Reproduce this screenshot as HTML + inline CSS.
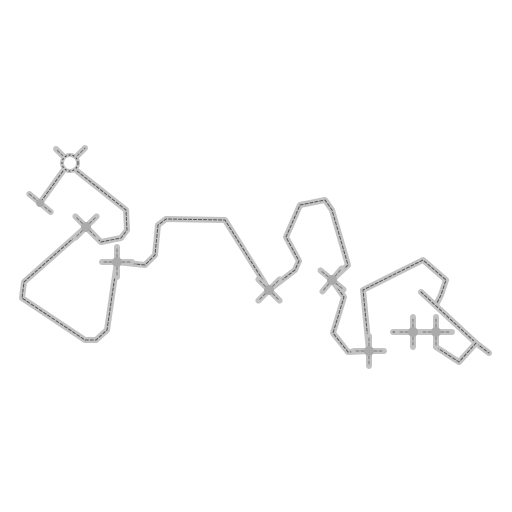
<!DOCTYPE html>
<html><head><meta charset="utf-8"><style>
html,body{margin:0;padding:0;background:#fff;width:512px;height:512px;overflow:hidden}
</style></head><body>
<svg id="map" width="512" height="512" viewBox="0 0 512 512" xmlns="http://www.w3.org/2000/svg">
<g id="roads" fill="none" stroke-linecap="round" stroke-linejoin="round"></g>
<g id="nodes"></g>
</svg>
<script>
const roadNames = ['circle-to-t','circle-to-cross1','left-loop','cross2-to-cross3','cross3-to-cross4','cross4-to-cross5','cross5-to-right','right-diagonal','right-lower','small-cross-bar'];
const roadPoints = [
 [[63,171],[40,203]],
 [[77,171],[126,210],[127,230],[121,238],[101,242],[86,227]],
 [[86,227],[24,282],[22,298],[85,340],[96,340],[107,330],[117,262]],
 [[117,262],[145,265],[155,255],[158,225],[166,219],[225,220],[269,290]],
 [[269,290],[295,270],[299,261],[286,237],[300,205],[325,200],[332,210],[348,265],[332,280]],
 [[332,280],[344,297],[333,333],[348,352],[369,351]],
 [[369,351],[363,290],[423,260],[446,280],[441,295],[436,305]],
 [[421,292],[476,343],[489,353]],
 [[436,332],[436,347],[459,362],[476,343]],
 [[393,332],[452,332]]
];
const crossNodes = [[86,227,45],[117,262,0],[269,290,45],[332,280,40],[369,351,0],[413,332,0],[436,332,0]];
const tNode = [40,203,40];
const circleNode = [70,163,7];
const NS='http://www.w3.org/2000/svg';
const roads=document.getElementById('roads'), nodes=document.getElementById('nodes');
function line(d,w,c,dash,name){const p=document.createElementNS(NS,'path');p.setAttribute('d',d);p.setAttribute('stroke',c);p.setAttribute('stroke-width',w);if(dash)p.setAttribute('stroke-dasharray',dash);


roads.appendChild(p);}
function toD(pts){return pts.map((p,i)=>(i?'L':'M')+p[0]+' '+p[1]).join(' ');}
roadPoints.forEach((pts,i)=>{const d=toD(pts);line(d,6,'#c2c2c2',null,roadNames[i]);line(d,1,'#555','3 2',roadNames[i]+'-centerline');});
function arms(x,y,ang,len){const r=ang*Math.PI/180,res=[];for(let k=0;k<4;k++){const a=r+k*Math.PI/2;res.push('M'+x+' '+y+' L'+(x+len*Math.cos(a)).toFixed(1)+' '+(y+len*Math.sin(a)).toFixed(1));}return res.join(' ');}
crossNodes.forEach((c,i)=>{const d=arms(c[0],c[1],c[2],15);line(d,6,'#c2c2c2',null,'intersection-arms-'+i);line(d,1,'#777','3 2','intersection-centerline-'+i);
const ci=document.createElementNS(NS,'circle');ci.setAttribute('cx',c[0]);ci.setAttribute('cy',c[1]);ci.setAttribute('r',5);ci.setAttribute('fill','#aaa');


nodes.appendChild(ci);});
(function(){const r=tNode[2]*Math.PI/180,x=tNode[0],y=tNode[1];const d='M'+(x-14*Math.cos(r))+' '+(y-14*Math.sin(r))+' L'+(x+14*Math.cos(r))+' '+(y+14*Math.sin(r));line(d,6,'#c2c2c2',null,'t-junction-bar');line(d,1,'#777','3 2','t-junction-centerline');
const ci=document.createElementNS(NS,'circle');ci.setAttribute('cx',x);ci.setAttribute('cy',y);ci.setAttribute('r',4);ci.setAttribute('fill','#aaa');


nodes.appendChild(ci);})();
(function(){const [x,y,r]=circleNode;const d='M'+(x-7)+' '+(y-7)+' L'+(x-14)+' '+(y-14)+' M'+(x+7)+' '+(y-7)+' L'+(x+15)+' '+(y-15);line(d,6,'#c2c2c2',null,'roundabout-spokes');line(d,1,'#777','3 2','roundabout-spoke-centerline');
const c1=document.createElementNS(NS,'circle');c1.setAttribute('cx',x);c1.setAttribute('cy',y);c1.setAttribute('r',r+1);c1.setAttribute('fill','#fff');c1.setAttribute('stroke','#c2c2c2');c1.setAttribute('stroke-width',4);


nodes.appendChild(c1);
const c2=document.createElementNS(NS,'circle');c2.setAttribute('cx',x);c2.setAttribute('cy',y);c2.setAttribute('r',r+1);c2.setAttribute('fill','none');c2.setAttribute('stroke','#444');c2.setAttribute('stroke-width',1);c2.setAttribute('stroke-dasharray','2 2');


nodes.appendChild(c2);})();
</script>
</body></html>
